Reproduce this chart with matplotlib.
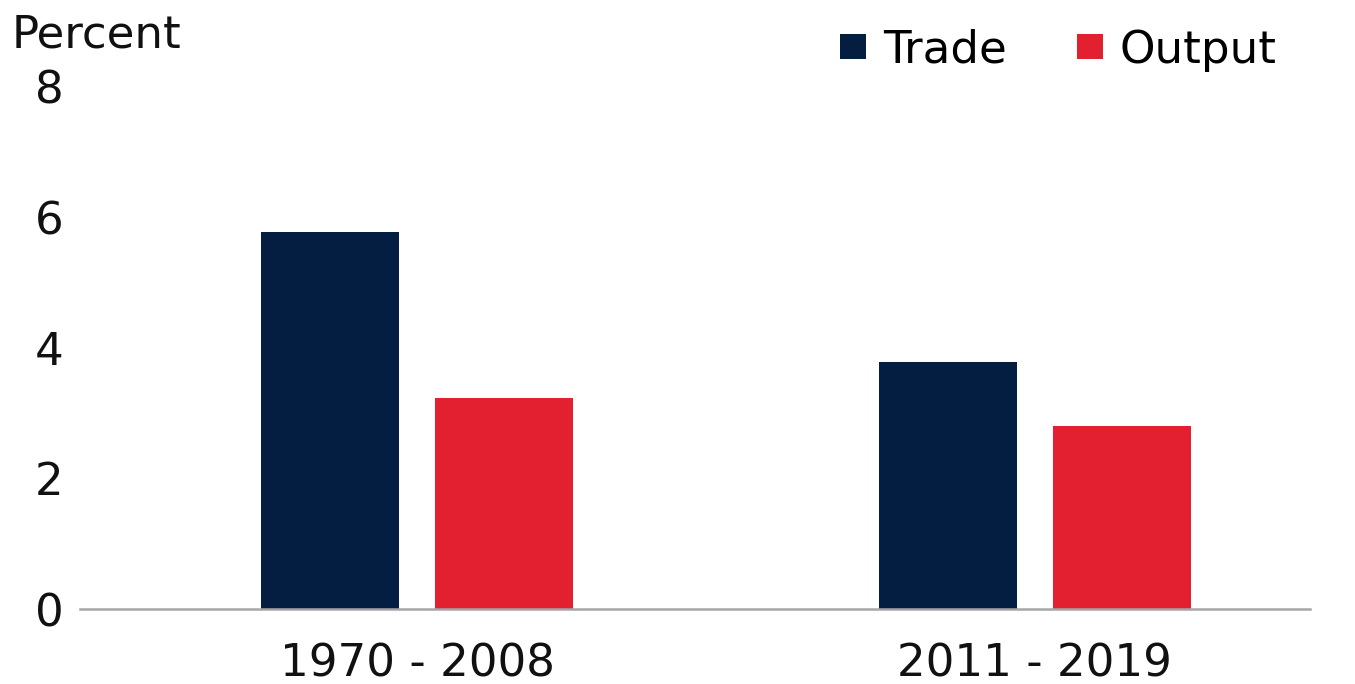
import matplotlib.pyplot as plt
import numpy as np

plt.rcParams['font.family'] = ['DejaVu Sans']

periodos = ["1970 - 2008", "2011 - 2019"]
trade = [5.78, 3.79]
output = [3.24, 2.81]
colores = {"Trade": "#041E42", "Output": "#E3202F"}

tam = 32.5

fig = plt.figure(figsize=(13.55, 6.84), dpi=100)
ax = fig.add_axes([0.059, 0.1096, 0.908, 0.7635])

x = np.arange(len(periodos))
ancho = 0.2235
desplaz = 0.141

ax.bar(x - desplaz, trade, ancho, color=colores["Trade"], label="Trade", zorder=2)
ax.bar(x + desplaz, output, ancho, color=colores["Output"], label="Output", zorder=2)

ax.set_xlim(-0.546, 1.446)
ax.set_ylim(0, 8)
ax.set_yticks([0, 2, 4, 6, 8])
ax.set_xticks(x)
ax.set_xticklabels(periodos)
ax.tick_params(axis="both", length=0, labelsize=tam, colors="#111111")
ax.tick_params(axis="y", pad=12)
ax.tick_params(axis="x", pad=24)

for lado in ["top", "right", "left"]:
    ax.spines[lado].set_visible(False)
ax.spines["bottom"].set_color("#a6a6a6")
ax.spines["bottom"].set_linewidth(1.8)

# titulo del eje y arriba a la izquierda
fig.text(12 / 1355, 1 - 47 / 684, "Percent", fontsize=tam, va="baseline", ha="left", color="#111111")

fig.legend(loc="center right", bbox_to_anchor=(1277 / 1355, 1 - 50 / 684), ncol=2, frameon=False,
           fontsize=tam, handlelength=0.58, handleheight=0.5, handletextpad=0.38, columnspacing=1.55,
           borderaxespad=0, borderpad=0)

plt.savefig("out.png", dpi=100)
